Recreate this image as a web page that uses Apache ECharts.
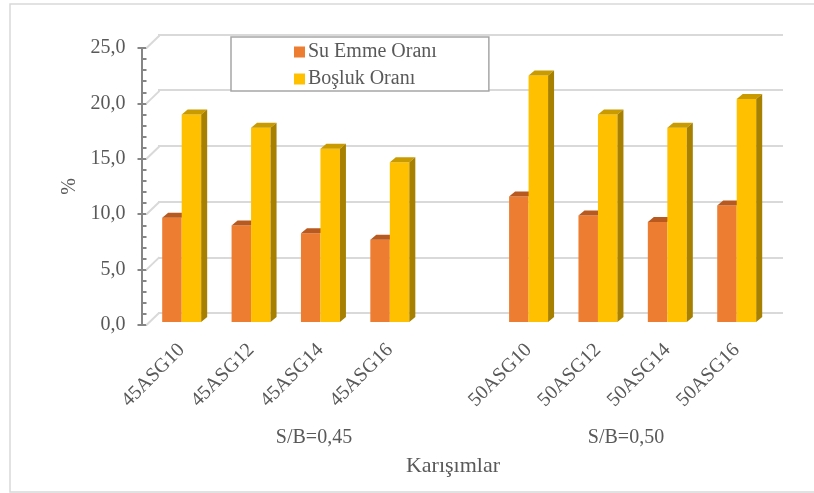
<!DOCTYPE html>
<html>
<head>
<meta charset="utf-8">
<script src="https://cdn.jsdelivr.net/npm/echarts@6/dist/echarts.min.js"></script>
<style>html,body{margin:0;padding:0;background:#fff;}#c{width:814px;height:493px;}</style>
</head>
<body>
<div id="c"></div>
<script>
// ---- data ----
const mixes = ['45ASG10', '45ASG12', '45ASG14', '45ASG16', '50ASG10', '50ASG12', '50ASG14', '50ASG16'];
const groupLabels = ['S/B=0,45', 'S/B=0,50'];
const suEmme = [9.4, 8.7, 8.0, 7.4, 11.3, 9.6, 9.0, 10.5];
const bosluk = [18.7, 17.5, 15.6, 14.4, 22.2, 18.7, 17.5, 20.1];
const yTicks = [0, 5, 10, 15, 20, 25];
const seriesNames = ['Su Emme Oranı', 'Boşluk Oranı'];
const xTitle = 'Karışımlar';
const yTitle = '%';

// ---- layout helpers ----
const FONT = 'Liberation Serif';
const TXT = '#595959';
// axis categories: group 1, an empty gap slot, group 2
const axisCats = mixes.slice(0, 4).concat([''], mixes.slice(4));
const slotOf = i => (i < 4 ? i : i + 1);
const DX = 6, DY = 5, BW = 0.281;

function barRender(isRight, front, topC, sideC) {
  return function (params, api) {
    const x = api.value(0), v = api.value(1);
    const base = api.coord([x, 0]);
    const top = api.coord([x, v]);
    const w = api.size([1, 0])[0] * BW;
    const x0 = isRight ? base[0] : base[0] - w;
    const x1 = x0 + w;
    const ty = top[1], by = base[1];
    const children = [
      { type: 'rect', shape: { x: x0, y: ty, width: w, height: by - ty }, style: { fill: front } },
      { type: 'polygon', shape: { points: [[x0, ty], [x0 + DX, ty - DY], [x1 + DX, ty - DY], [x1, ty]] }, style: { fill: topC } }
    ];
    if (isRight) {
      children.push({ type: 'polygon', shape: { points: [[x1, ty], [x1 + DX, ty - DY], [x1 + DX, by - DY], [x1, by]] }, style: { fill: sideC } });
    }
    return { type: 'group', children: children };
  };
}

const chart = echarts.init(document.getElementById('c'), null, { renderer: 'canvas' });
chart.setOption({
  backgroundColor: '#fff',
  animation: false,
  textStyle: { fontFamily: FONT },
  grid: [
    { left: 147, right: 42.6, top: 44.5, bottom: 171 },   // bars
    { left: 141.5, right: 42.6, top: 48, bottom: 168 },   // front value axis
    { left: 158, right: 31, top: 34.5, bottom: 180 }      // back wall gridlines
  ],
  xAxis: [
    {
      gridIndex: 0, type: 'category', data: axisCats,
      axisLine: { show: false }, axisTick: { show: false },
      axisLabel: { interval: 0, rotate: 45, fontSize: 20, color: TXT, fontFamily: FONT, margin: 25 }
    },
    { gridIndex: 1, type: 'value', min: 0, max: 1, show: false },
    { gridIndex: 2, type: 'value', min: 0, max: 1, show: false }
  ],
  yAxis: [
    { gridIndex: 0, type: 'value', min: 0, max: 25, show: false },
    {
      gridIndex: 1, type: 'value', min: 0, max: 25, interval: 5, position: 'left',
      name: yTitle, nameLocation: 'middle', nameGap: 62,
      nameTextStyle: { fontSize: 20, color: TXT, fontFamily: FONT },
      axisLine: { show: true, lineStyle: { color: '#868686', width: 2 } },
      axisTick: { show: true, inside: false, length: 4, lineStyle: { color: '#868686', width: 2 } },
      splitLine: { show: false },
      axisLabel: { fontSize: 20, color: TXT, fontFamily: FONT, margin: 16, formatter: v => v.toFixed(1).replace('.', ',') }
    },
    {
      gridIndex: 1, type: 'value', min: 0, max: 25, interval: 5, position: 'left', offset: 0,
      axisLine: { show: false },
      axisTick: { show: true, inside: true, length: 5, lineStyle: { color: '#868686', width: 2 } },
      minorTick: { show: true, splitNumber: 5, length: 5, lineStyle: { color: '#868686', width: 2 } },
      axisLabel: { show: false }, splitLine: { show: false }
    },
    {
      gridIndex: 2, type: 'value', min: 0, max: 25, interval: 5,
      axisLine: { show: false }, axisTick: { show: false }, axisLabel: { show: false },
      splitLine: { show: true, lineStyle: { color: '#d9d9d9', width: 2 } }
    }
  ],
  legend: {
    data: seriesNames,
    orient: 'vertical', left: 231, top: 37,
    padding: [5, 52, 2, 63], itemGap: 7,
    itemWidth: 11, itemHeight: 11, icon: 'rect',
    backgroundColor: '#fff', borderColor: '#a6a6a6', borderWidth: 1.5,
    textStyle: { fontSize: 20, color: TXT, fontFamily: FONT, lineHeight: 20, padding: [0, 0, 0, -2] }
  },
  series: [
    {
      name: seriesNames[0], type: 'custom', xAxisIndex: 0, yAxisIndex: 0, z: 3,
      itemStyle: { color: '#ED7D31' },
      renderItem: barRender(false, '#ED7D31', '#B85A1F', '#B85A1F'),
      data: suEmme.map((v, i) => [slotOf(i), v])
    },
    {
      name: seriesNames[1], type: 'custom', xAxisIndex: 0, yAxisIndex: 0, z: 4,
      itemStyle: { color: '#FFC000' },
      renderItem: barRender(true, '#FFC000', '#C99B00', '#A88000'),
      data: bosluk.map((v, i) => [slotOf(i), v])
    },
    {
      name: 'floor', type: 'custom', xAxisIndex: 1, yAxisIndex: 1, z: 1, silent: true,
      renderItem: function (params, api) {
        const p = api.coord([0, api.value(1)]);
        return { type: 'line', shape: { x1: p[0] + 5, y1: p[1], x2: p[0] + 18, y2: p[1] - 12.5 }, style: { stroke: '#d9d9d9', lineWidth: 2 } };
      },
      data: yTicks.map(v => [0, v])
    }
  ],
  graphic: [
    { type: 'rect', shape: { x: 10, y: 4, width: 830, height: 488 }, style: { fill: 'none', stroke: '#d9d9d9', lineWidth: 1.5 }, z: -1, silent: true },
    { type: 'text', x: 314, y: 438, style: { text: groupLabels[0], fontSize: 20, fill: TXT, fontFamily: FONT, textAlign: 'center', textVerticalAlign: 'middle' } },
    { type: 'text', x: 626, y: 438, style: { text: groupLabels[1], fontSize: 20, fill: TXT, fontFamily: FONT, textAlign: 'center', textVerticalAlign: 'middle' } },
    { type: 'text', x: 453, y: 466, style: { text: xTitle, fontSize: 22, fill: TXT, fontFamily: FONT, textAlign: 'center', textVerticalAlign: 'middle' } }
  ]
});
</script>
</body>
</html>
